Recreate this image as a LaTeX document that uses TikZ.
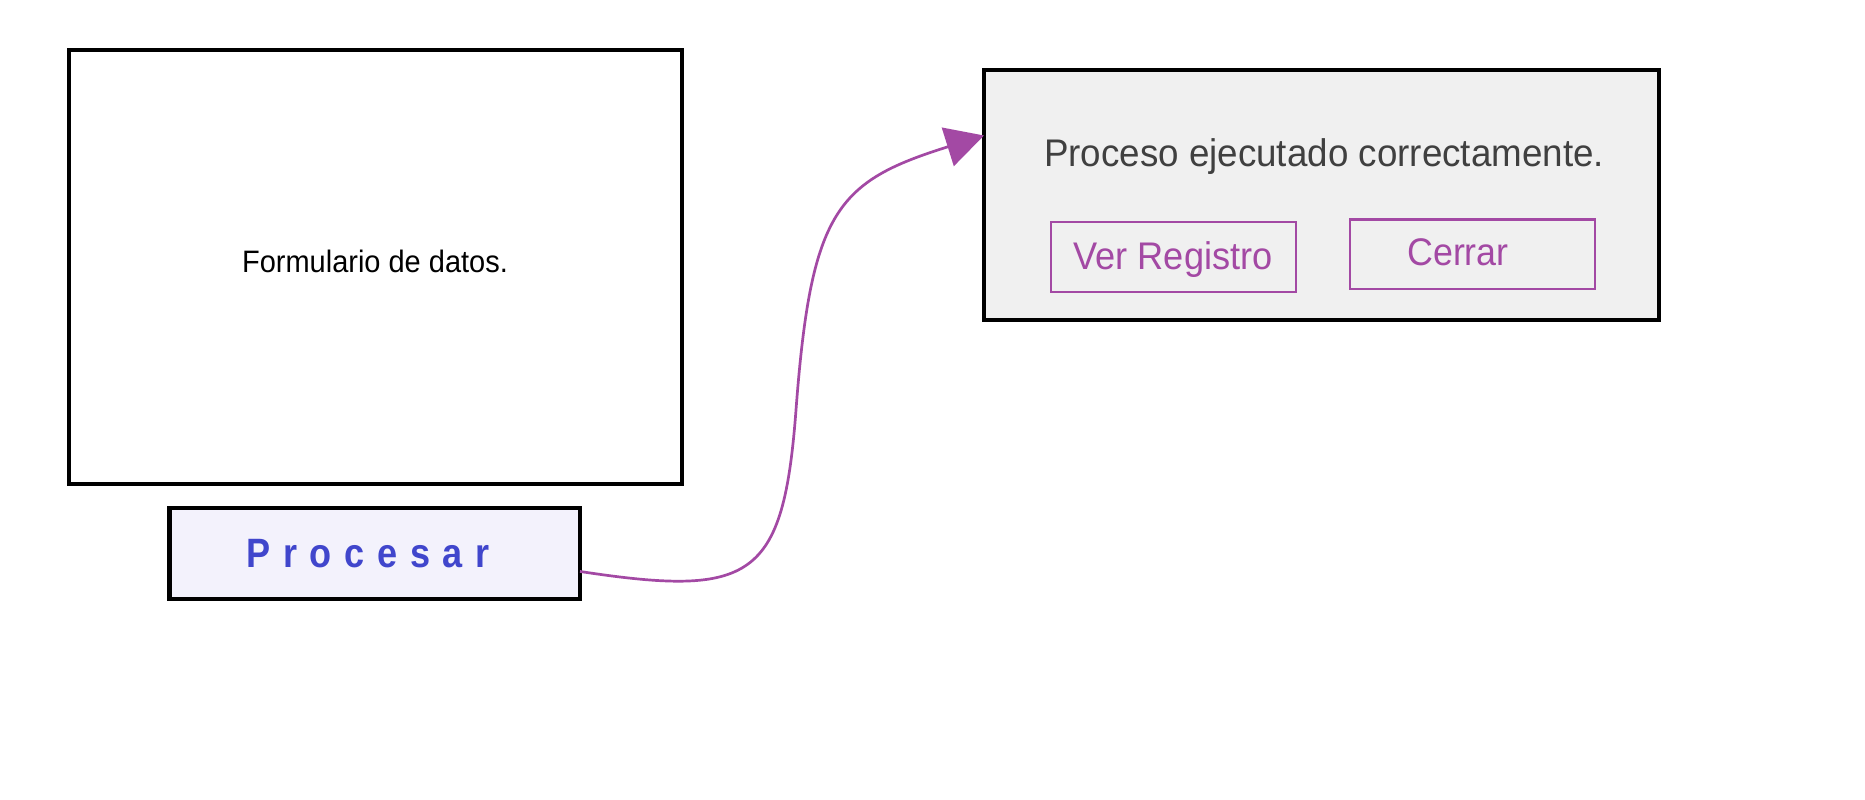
\documentclass[tikz,border=0pt]{standalone}
\usepackage{fontspec}
\setmainfont{Liberation Sans}
\usepackage{graphicx}
\usetikzlibrary{arrows.meta}
\definecolor{btnpurple}{HTML}{A349A4}
\definecolor{msggray}{HTML}{404040}
\definecolor{dlgfill}{HTML}{F0F0F0}
\definecolor{procfill}{HTML}{F3F2FC}
\definecolor{procblue}{HTML}{4046CC}
\begin{document}
\begin{tikzpicture}[x=0.5pt,y=-0.5pt,
  boxbase/.style={rectangle, inner sep=0pt, outer sep=0pt},
  formbox/.style={boxbase, draw=black, line width=2pt, fill=white},
  procbox/.style={boxbase, draw=black, line width=2.15pt, fill=procfill},
  dlgbox/.style={boxbase, draw=black, line width=1.6pt, fill=dlgfill},
  btnbox/.style={boxbase, draw=btnpurple, line width=1.35pt},
  lbl/.style={anchor=base, inner sep=0pt, outer sep=0pt},
  flow/.style={draw=btnpurple, line width=1.35pt, -{Triangle[length=19pt,width=20pt]}}
]
\useasboundingbox[fill=white] (0,0) rectangle (1865,799);

% form panel
\node[formbox, minimum width=306.5pt, minimum height=217pt] (form) at (375.5,267) {};
\node[lbl, font=\fontsize{15.5pt}{18pt}\selectfont] (formtxt) at (375,272.5)
  {\scalebox{0.935}[1]{Formulario de datos.}};

% process button
\node[procbox, minimum width=205.25pt, minimum height=45.5pt] (proc) at (374.75,553.5) {};
\node[lbl, text=procblue, font=\fontsize{20.5pt}{24pt}\selectfont\bfseries] (proctxt) at (368,567.7)
  {\scalebox{0.88}[1]{P\hspace{7.2pt}r\hspace{7.2pt}o\hspace{7.2pt}c\hspace{7.2pt}e\hspace{7.2pt}s\hspace{7.2pt}a\hspace{7.2pt}r}};

% dialog
\node[dlgbox, minimum width=337.5pt, minimum height=125pt] (dlg) at (1321.5,195) {};
\node[lbl, text=msggray, font=\fontsize{19.25pt}{23pt}\selectfont] (msg) at (1324,166.7)
  {\scalebox{0.955}[1]{Proceso ejecutado correctamente.}};

\node[btnbox, minimum width=122.5pt, minimum height=35pt] (ver) at (1173.5,257) {};
\node[lbl, text=btnpurple, font=\fontsize{19.25pt}{23pt}\selectfont] (vertxt) at (1173,269)
  {\scalebox{0.94}[1]{Ver Registro}};

\node[btnbox, minimum width=122.5pt, minimum height=34.75pt] (cerrar) at (1472.5,254.25) {};
\node[lbl, text=btnpurple, font=\fontsize{19.25pt}{23pt}\selectfont] (cerrartxt) at (1458,265)
  {\scalebox{0.93}[1]{Cerrar}};

% connector
\coordinate (mid) at (796,410);
\draw[flow] (proc.-5) .. controls (752,597.5) and (783.25,580) .. (mid)
  .. controls (811,210) and (837,181.5) .. (dlg.170.9);
\end{tikzpicture}
\end{document}
